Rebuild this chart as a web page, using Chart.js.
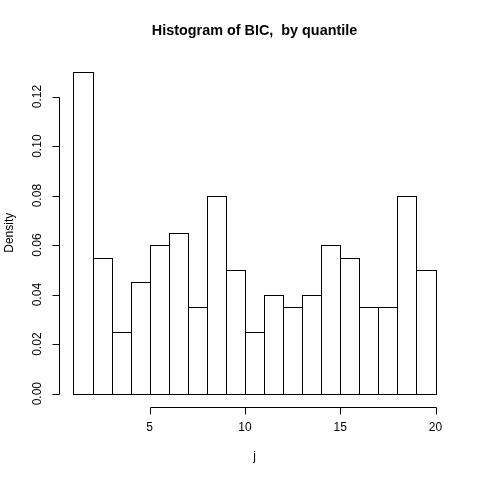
<!DOCTYPE html>
<html>
<head>
<meta charset="utf-8">
<script src="https://cdn.jsdelivr.net/npm/chart.js@4"></script>
<style>
html,body{margin:0;padding:0;background:#fff;}
#wrap{width:480px;height:480px;position:relative;}
</style>
</head>
<body>
<div id="wrap"><canvas id="c" width="480" height="480"></canvas></div>
<script>
// Histogram data
const binMids = [1.5, 2.5, 3.5, 4.5, 5.5, 6.5, 7.5, 8.5, 9.5, 10.5, 11.5, 12.5, 13.5, 14.5, 15.5, 16.5, 17.5, 18.5, 19.5];
const density = [0.13, 0.055, 0.025, 0.045, 0.06, 0.065, 0.035, 0.08, 0.05, 0.025, 0.04, 0.035, 0.04, 0.06, 0.055, 0.035, 0.035, 0.08, 0.05];
const xTicks = [5, 10, 15, 20];
const yTicks = [0, 0.02, 0.04, 0.06, 0.08, 0.10, 0.12];
const yTickLabels = ["0.00", "0.02", "0.04", "0.06", "0.08", "0.10", "0.12"];
const titleText = "Histogram of BIC,  by quantile";
const xLabel = "j";
const yLabel = "Density";

const FONT = "'Liberation Sans', Arial, Helvetica, sans-serif";

const crisp = v => Math.round(v) + 0.5;

// outlines of histogram bars, taken from the bar elements Chart.js laid out
const barOutlines = {
  id: 'barOutlines',
  afterDatasetsDraw(chart) {
    const ctx = chart.ctx;
    const meta = chart.getDatasetMeta(0);
    ctx.save();
    ctx.strokeStyle = '#000';
    ctx.lineWidth = 1;
    meta.data.forEach(bar => {
      const p = bar.getProps(['x', 'y', 'base', 'width'], true);
      const l = crisp(p.x - p.width / 2);
      const r = crisp(p.x + p.width / 2);
      const t = crisp(p.y);
      const b = crisp(p.base);
      ctx.strokeRect(l, t, r - l, b - t);
    });
    ctx.restore();
  }
};

const rAxes = {
  id: 'rAxes',
  afterDraw(chart) {
    const ctx = chart.ctx;
    const xs = chart.scales.x, ys = chart.scales.y;
    const ca = chart.chartArea;
    ctx.save();
    ctx.strokeStyle = '#000';
    ctx.fillStyle = '#000';
    ctx.lineWidth = 1;
    // x axis
    const xa = crisp(ca.bottom);
    ctx.beginPath();
    ctx.moveTo(crisp(xs.getPixelForValue(xTicks[0])), xa);
    ctx.lineTo(crisp(xs.getPixelForValue(xTicks[xTicks.length - 1])), xa);
    xTicks.forEach(t => {
      const px = crisp(xs.getPixelForValue(t));
      ctx.moveTo(px, xa);
      ctx.lineTo(px, xa + 7);
    });
    ctx.stroke();
    ctx.font = '12px ' + FONT;
    ctx.textAlign = 'center';
    ctx.textBaseline = 'middle';
    xTicks.forEach(t => {
      ctx.fillText(String(t), xs.getPixelForValue(t), 428);
    });
    // y axis
    const ya = crisp(ca.left);
    ctx.beginPath();
    ctx.moveTo(ya, crisp(ys.getPixelForValue(yTicks[0])));
    ctx.lineTo(ya, crisp(ys.getPixelForValue(yTicks[yTicks.length - 1])));
    yTicks.forEach(t => {
      const py = crisp(ys.getPixelForValue(t));
      ctx.moveTo(ya, py);
      ctx.lineTo(ya - 7, py);
    });
    ctx.stroke();
    yTicks.forEach((t, i) => {
      ctx.save();
      ctx.translate(38, ys.getPixelForValue(t));
      ctx.rotate(-Math.PI / 2);
      ctx.fillText(yTickLabels[i], 0, 0);
      ctx.restore();
    });
    // axis titles
    ctx.fillText(xLabel, (ca.left + ca.right) / 2, 457);
    ctx.save();
    ctx.translate(10, (ca.top + ca.bottom) / 2);
    ctx.rotate(-Math.PI / 2);
    ctx.fillText(yLabel, 0, 0);
    ctx.restore();
    // main title
    ctx.font = 'bold 14.4px ' + FONT;
    ctx.fillText(titleText, (ca.left + ca.right) / 2, 31);
    ctx.restore();
  }
};

new Chart(document.getElementById('c'), {
  type: 'bar',
  data: {
    datasets: [{
      data: binMids.map((m, i) => ({ x: m, y: density[i] })),
      backgroundColor: '#ffffff',
      borderWidth: 0,
      inflateAmount: 0,
      barPercentage: 1,
      categoryPercentage: 1
    }]
  },
  options: {
    responsive: false,
    animation: false,
    devicePixelRatio: 1,
    layout: { padding: { left: 59, right: 30, top: 59, bottom: 73.5 } },
    plugins: { legend: { display: false }, tooltip: { enabled: false }, title: { display: false } },
    scales: {
      x: { type: 'linear', min: 0.24, max: 20.76, offset: false, grid: { offset: false }, display: false },
      y: { type: 'linear', min: -0.0052, max: 0.1352, display: false }
    }
  },
  plugins: [barOutlines, rAxes]
});
</script>
</body>
</html>
